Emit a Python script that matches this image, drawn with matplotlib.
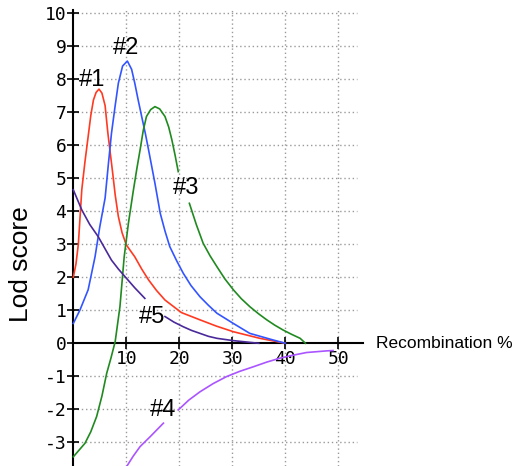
import numpy as np
import matplotlib.pyplot as plt

nan = np.nan

# curve #1 (red)
x1 = [0, 0.5, 0.95, 1.6, 2.2, 2.8, 3.3, 3.8, 4.3, 4.85, 5.4, 6.0, 6.5, 6.9, 7.4, 7.9, 8.5, 9.2, 10.0, 11.6, 12.9,
      14.2, 15.7, 17.3, 20.4, 23.9, 27.0, 30.2, 35.2, 40]
y1 = [2.0, 2.4, 3.0, 4.65, 5.5, 6.26, 6.9, 7.37, 7.6, 7.7, 7.58, 7.2, 6.4, 5.86, 5.2, 4.5, 3.84, 3.35, 2.98, 2.62, 2.25,
      1.92, 1.6, 1.31, 0.93, 0.71, 0.52, 0.35, 0.15, 0.0]

# curve #2 (blue)
x2 = [0, 1.26, 2.8, 4.1, 5.0, 6.0, 6.6, 7.2, 7.9, 8.5, 9.3, 10.2, 11.0, 11.6, 12.2, 12.9, 13.6, 14.2, 15.4, 16.4,
      17.3, 18.2, 19.5, 20.75, 22.2, 23.9, 25.5, 27.1, 30.2, 33.3, 37.7, 40]
y2 = [0.6, 1.01, 1.62, 2.62, 3.53, 4.4, 5.4, 6.36, 7.2, 7.88, 8.4, 8.55, 8.3, 7.88, 7.4, 6.87, 6.35, 5.86, 4.85, 3.94,
      3.4, 2.93, 2.5, 2.12, 1.75, 1.41, 1.15, 0.91, 0.6, 0.3, 0.1, 0.0]

# curve #3 (green), gap where the label sits
x3 = [0, 2.2, 3.3, 4.4, 5.4, 6.3, 7.1, 7.9, 8.8, 9.6, 10.4, 11.3, 12.0, 12.6, 13.2, 13.8, 14.6, 15.4, 16.3, 17.3,
      18.0, 18.6, 19.2, 19.8, nan,
      21.9, 23.2, 24.5, 25.8, 27.1, 28.6, 30.2, 31.7, 33.3, 34.9, 36.5, 38.0, 39.6, 41.2, 42.8, 43.8]
y3 = [-3.44, -3.03, -2.68, -2.22, -1.6, -0.91, -0.45, 0.05, 1.11, 2.62, 3.64, 4.6, 5.3, 5.86, 6.45, 6.87, 7.08, 7.17,
      7.1, 6.87, 6.55, 6.16, 5.7, 5.2, nan,
      4.24, 3.6, 3.03, 2.65, 2.32, 1.95, 1.62, 1.35, 1.11, 0.9, 0.71, 0.55, 0.4, 0.27, 0.15, 0.0]

# curve #4 (violet)
x4 = [10, 11.3, 12.6, 14.5, 17.0, nan, 19.8, 21.8, 23.9, 26.4, 28.9, 31.4, 34.0, 36.5, 39.0, 41.5, 44.0, 47.8, 49]
y4 = [-3.75, -3.42, -3.13, -2.83, -2.42, nan, -2.02, -1.72, -1.47, -1.22, -1.01, -0.85, -0.71, -0.57, -0.45, -0.36,
      -0.28, -0.23, -0.22]

# curve #5 (indigo)
x5 = [0, 1.6, 3.1, 4.7, 6.0, 7.2, 8.5, 9.75, 11.6, 13.5, nan, 17.3, 19.0, 20.75, 22.3, 23.9, 25.5, 27.1, 30.2, 35]
y5 = [4.65, 4.04, 3.6, 3.23, 2.86, 2.52, 2.25, 2.02, 1.68, 1.36, nan, 0.81, 0.64, 0.5, 0.39, 0.3, 0.21, 0.15, 0.08, 0.0]

labels = ['#1', '#2', '#3', '#4', '#5']
label_x = [3.6, 9.9, 21.3, 16.9, 14.8]
label_y = [7.98, 8.94, 4.69, -2.02, 0.81]

xticks = [10, 20, 30, 40, 50]
yticks = list(range(-3, 11))

fig = plt.figure(figsize=(5.19, 4.66), dpi=100)
ax = fig.add_axes([0, 0, 1, 1])
ax.set_xlim(-13.83, 84.09)
ax.set_ylim(-3.718, 10.40)

# dotted grid
grid_kw = dict(color='#9a9a9a', linewidth=1.0, linestyles=(0, (1, 2)), zorder=1)
ax.vlines(xticks, -3.718, 10.1, **grid_kw)
ax.hlines([v for v in yticks if v != 0], 0, 53.6, **grid_kw)

ax.plot(x1, y1, color='#ff3a22', linewidth=1.2, zorder=3)
ax.plot(x2, y2, color='#3355ff', linewidth=1.2, zorder=3)
ax.plot(x3, y3, color='#208a20', linewidth=1.2, zorder=3)
ax.plot(x4, y4, color='#aa55ff', linewidth=1.2, zorder=3)
ax.plot(x5, y5, color='#4a2a9a', linewidth=1.2, zorder=3)

for lab, lx, ly in zip(labels, label_x, label_y):
    ax.text(lx, ly, lab, fontsize=17, family='Liberation Sans', ha='center', va='center', zorder=4)

# axes through the origin
for s in ['top', 'right']:
    ax.spines[s].set_visible(False)
ax.spines['left'].set_position(('data', 0))
ax.spines['bottom'].set_position(('data', 0))
ax.spines['left'].set_bounds(-3.718, 10.1)
ax.spines['bottom'].set_bounds(0, 54.7)
ax.spines['left'].set_linewidth(1.5)
ax.spines['bottom'].set_linewidth(1.5)

ax.set_xticks(xticks)
ax.set_xticklabels([str(v) for v in xticks])
ax.set_yticks(yticks)
ax.set_yticklabels([str(v) for v in yticks])
ax.tick_params(direction='inout', length=8, width=1.2, pad=1, labelsize=13)
for t in ax.get_xticklabels() + ax.get_yticklabels():
    t.set_family('DejaVu Sans Mono')

ax.text(-9.87, 2.4, 'Lod score', rotation=90, fontsize=19, family='Liberation Sans', ha='center', va='center')
ax.text(57.2, 0, 'Recombination %', fontsize=12.5, family='Liberation Sans', ha='left', va='center')

fig.savefig('out.png', dpi=100)
